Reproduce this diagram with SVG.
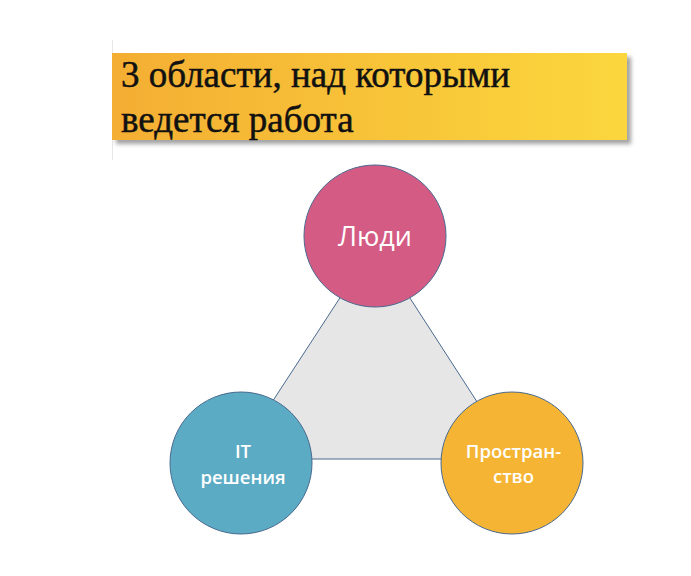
<svg xmlns="http://www.w3.org/2000/svg" width="691" height="576" viewBox="0 0 691 576">
<defs>
<linearGradient id="titleGrad" x1="0" y1="0" x2="1" y2="0">
<stop offset="0" stop-color="#f4ae33"/>
<stop offset="1" stop-color="#fbd73d"/>
</linearGradient>
<filter id="shadow" x="-5%" y="-20%" width="115%" height="150%">
<feGaussianBlur stdDeviation="2"/>
</filter>
<style>
.title{font-family:"Liberation Serif","DejaVu Serif",serif;font-size:37px;fill:#111;stroke:#111;stroke-width:0.5}
.node{stroke:#4a6a8f;stroke-width:1}
.lbl{font-family:"Open Sans","DejaVu Sans",sans-serif;fill:#fff;text-anchor:middle}
.b{font-weight:600;font-size:18.5px}
</style>
</defs>
<rect width="691" height="576" fill="#fff"/>
<g id="title">
<line x1="112.5" y1="40" x2="112.5" y2="160" stroke="#e8e8e8" stroke-width="1"/>
<rect x="116" y="57" width="515" height="87" fill="#555" opacity="0.55" filter="url(#shadow)"/>
<rect x="112" y="53" width="515" height="87" fill="url(#titleGrad)"/>
<text class="title" x="121" y="87">3 области, над которыми</text>
<text class="title" x="121" y="132">ведется работа</text>
</g>
<g id="connectors">
<polygon points="375,244 235,459 514,459" fill="#e6e6e6" stroke="#4a6a8f" stroke-width="1"/>
</g>
<g id="node-people">
<circle class="node" cx="375" cy="236" r="71" fill="#d45c84"/>
<text class="lbl" x="375" y="246" font-size="27">Люди</text>
</g>
<g id="node-it">
<circle class="node" cx="241" cy="463" r="71" fill="#5babc4"/>
<text class="lbl b" x="243" y="458">IT</text>
<text class="lbl b" x="243" y="484">решения</text>
</g>
<g id="node-space">
<circle class="node" cx="512" cy="463" r="71" fill="#f5b433"/>
<text class="lbl b" x="513.5" y="458">Простран-</text>
<text class="lbl b" x="513.5" y="483">ство</text>
</g>
</svg>
